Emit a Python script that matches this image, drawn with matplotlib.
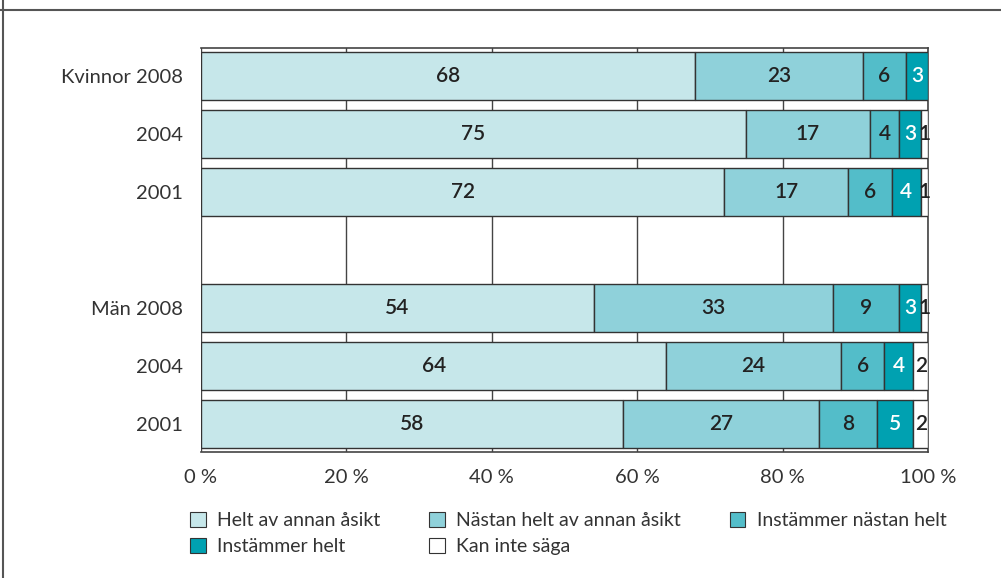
import matplotlib
matplotlib.use("Agg")
import matplotlib.pyplot as plt
from matplotlib.patches import Patch
from matplotlib.lines import Line2D

plt.rcParams['font.family'] = ['Lato', 'DejaVu Sans']

categories = ["Kvinnor 2008", "2004", "2001", "", "Män 2008", "2004", "2001"]
series_names = ["Helt av annan åsikt", "Nästan helt av annan åsikt",
                "Instämmer nästan helt", "Instämmer helt", "Kan inte säga"]
helt_annan = [68, 75, 72, None, 54, 64, 58]
nastan_annan = [23, 17, 17, None, 33, 24, 27]
nastan_instammer = [6, 4, 6, None, 9, 6, 8]
helt_instammer = [3, 3, 4, None, 3, 4, 5]
kan_inte = [0, 1, 1, None, 1, 2, 2]
xticks = [0, 20, 40, 60, 80, 100]
xtick_labels = ["0 %", "20 %", "40 %", "60 %", "80 %", "100 %"]

colors = ["#c6e7ea", "#8fd1da", "#53bdc9", "#00a1b1", "#ffffff"]
text_colors = ["#222222", "#222222", "#222222", "#ffffff", "#222222"]
edge = "#333333"
tc = "#333333"

fig = plt.figure(figsize=(10.01, 5.78), dpi=100)
ax = fig.add_axes([201/1001, (578-452)/578, 727/1001, 404/578])

series = [helt_annan, nastan_annan, nastan_instammer, helt_instammer, kan_inte]
for i, cat in enumerate(categories):
    if series[0][i] is None:
        continue
    left = 0
    for s, vals in enumerate(series):
        v = vals[i]
        if v:
            ax.barh(i, v, left=left, height=0.83, color=colors[s],
                    edgecolor=edge, linewidth=1.0, zorder=3)
            ax.text(left + v/2, i, str(v), ha="center", va="center",
                    fontsize=15, color=text_colors[s], fontweight="semibold", zorder=4)
        left += v

ax.set_xlim(0, 100)
ax.set_ylim(6.48, -0.48)
ax.set_yticks(range(len(categories)))
ax.set_yticklabels(categories, fontsize=14.5, color=tc)
ax.set_xticks(xticks)
ax.set_xticklabels(xtick_labels, fontsize=14.5, color=tc)
ax.tick_params(axis="y", length=0, pad=13)
ax.tick_params(axis="x", length=0, pad=12)
ax.grid(axis="x", color="#444444", linewidth=1.0, zorder=0)
ax.grid(axis="y", visible=False)
for sp in ax.spines.values():
    sp.set_color("#444444")
    sp.set_linewidth(1.2)
ax.spines["left"].set_visible(False)

handles = [Patch(facecolor=colors[k], edgecolor=edge, linewidth=0.8) for k in range(5)]
order = [0, 3, 1, 4, 2]
leg = fig.legend([handles[k] for k in order], [series_names[k] for k in order],
                 ncol=3, loc="upper left", bbox_to_anchor=(190/1001, 1 - 512/578),
                 frameon=False, fontsize=14, handlelength=0.8, handleheight=0.8,
                 handletextpad=0.6, columnspacing=2.5, labelspacing=0.45,
                 borderaxespad=0, borderpad=0)
for t in leg.get_texts():
    t.set_color(tc)

fig.add_artist(Line2D([0, 1], [1 - 10/578, 1 - 10/578], color="#555555", linewidth=1.5,
                      transform=fig.transFigure))
fig.add_artist(Line2D([3/1001, 3/1001], [0, 1], color="#555555", linewidth=1.5,
                      transform=fig.transFigure))

fig.savefig("out.png", dpi=100)
